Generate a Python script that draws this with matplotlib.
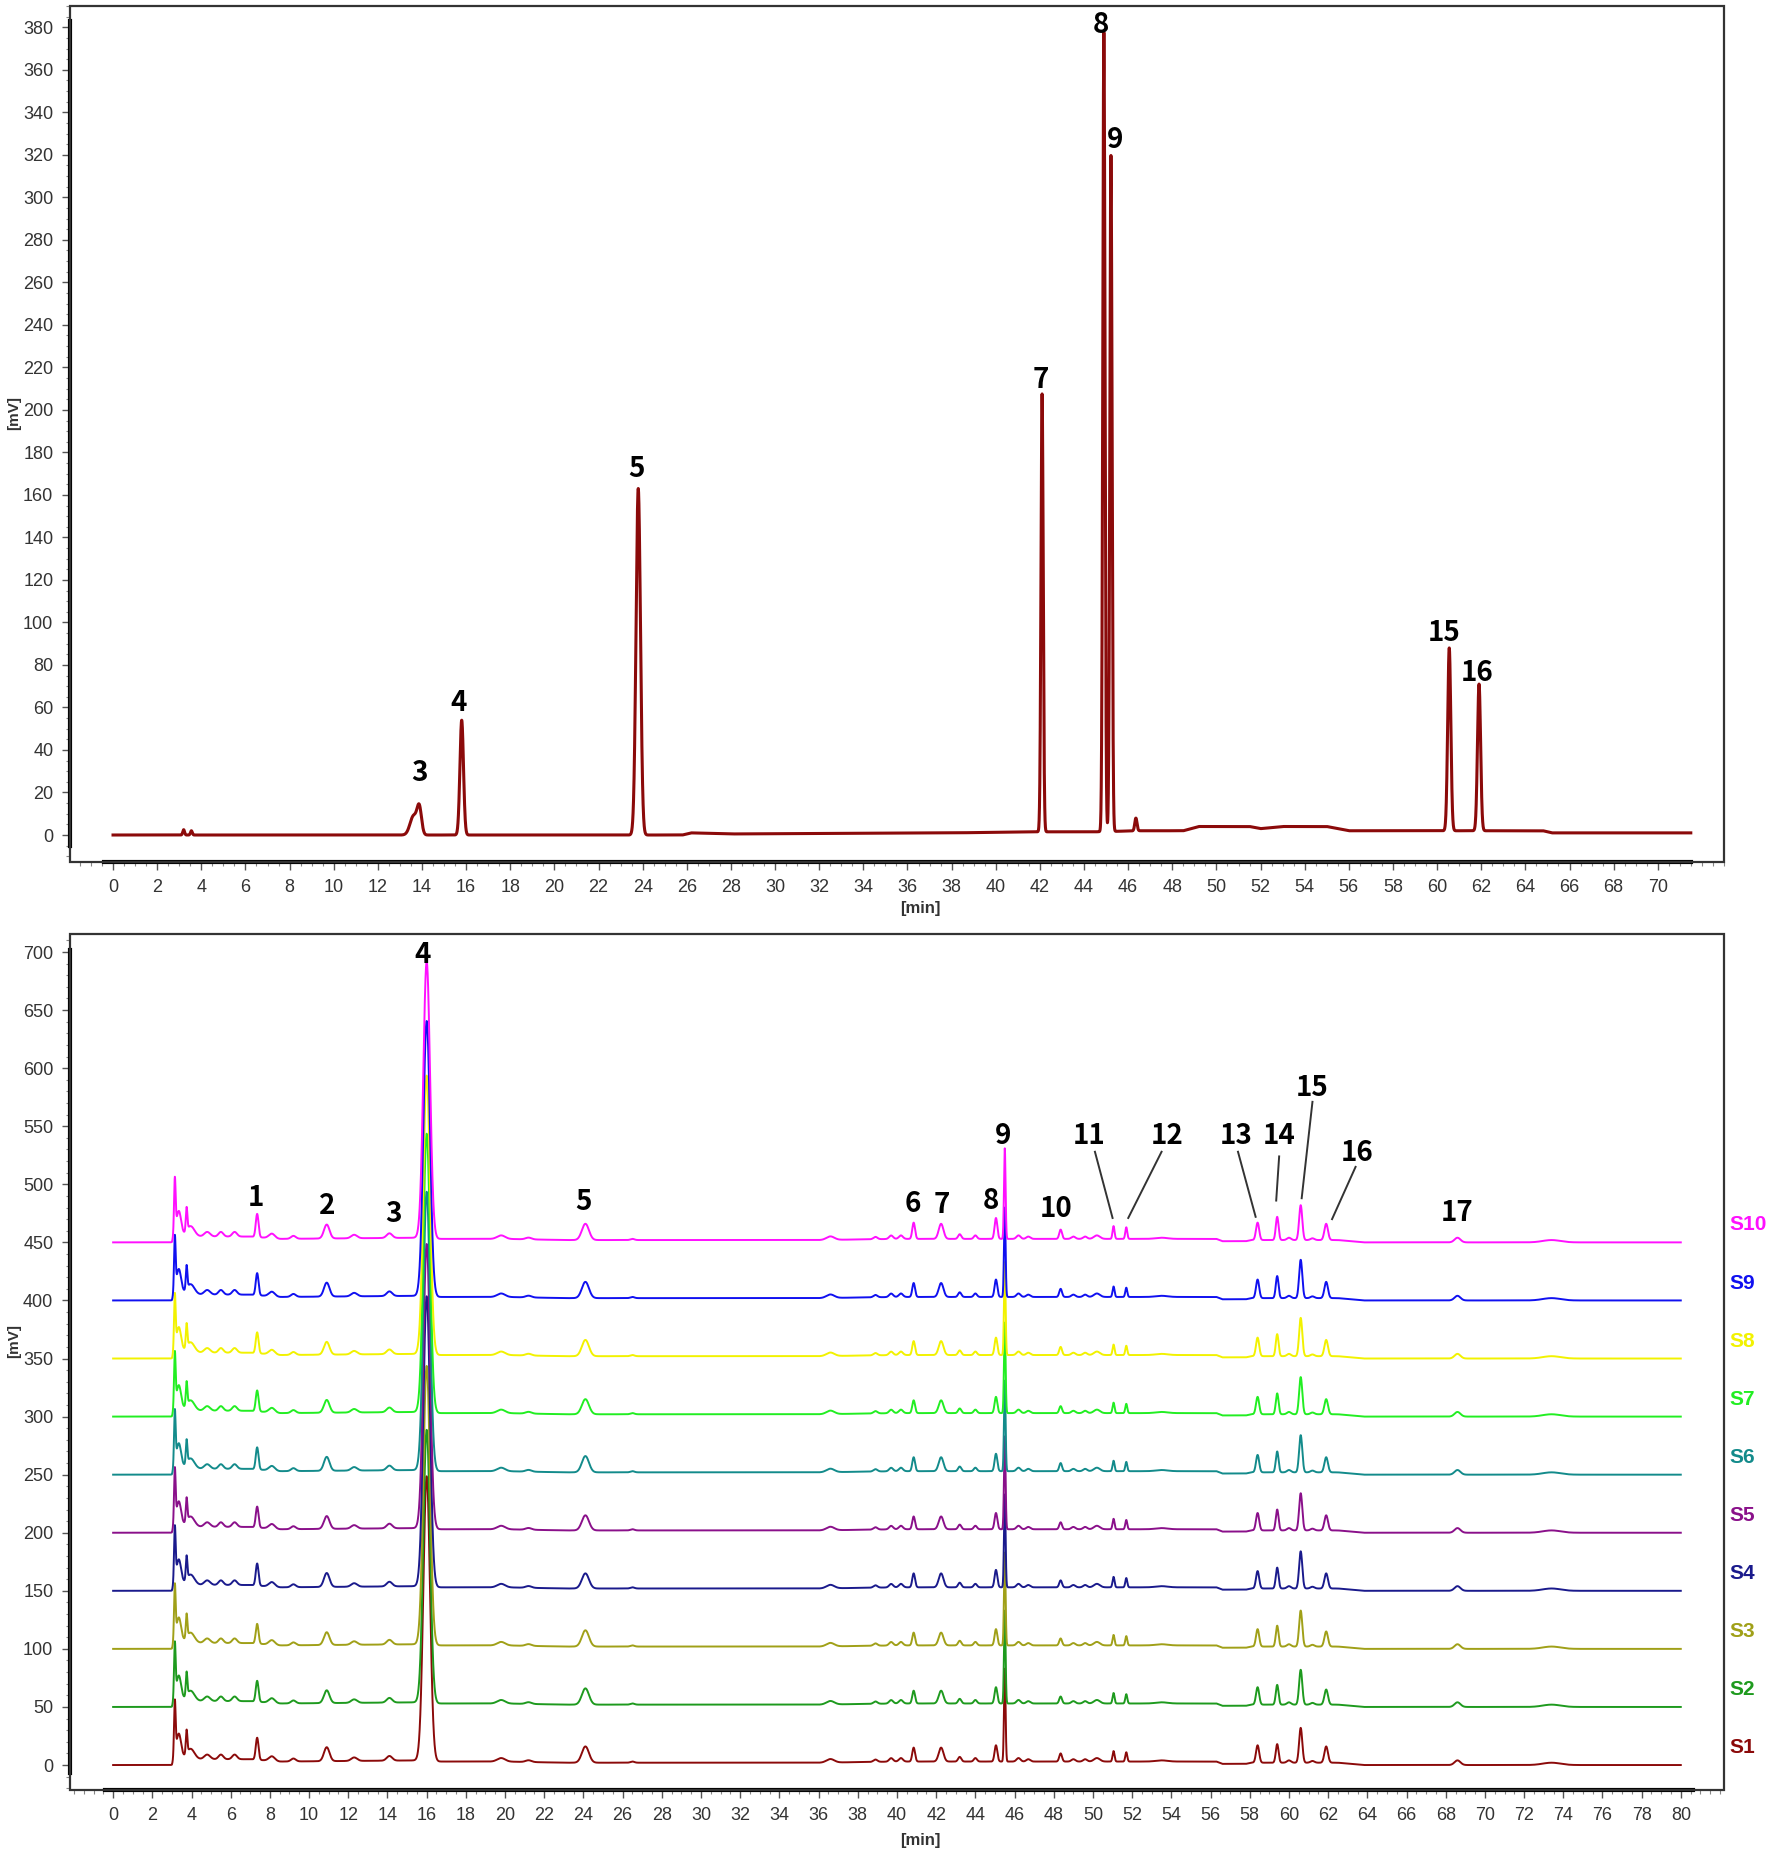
import matplotlib.pyplot as plt
import numpy as np
from matplotlib.ticker import MultipleLocator
from matplotlib.patches import Rectangle
import matplotlib.transforms as mtrans

plt.rcParams['font.family'] = ['Liberation Sans', 'DejaVu Sans']

# ---------------- top chromatogram (single run) ----------------
top_rt = [3.2, 3.55, 13.62, 13.88, 15.8, 23.8, 42.1, 44.9, 45.22, 46.35, 60.55, 61.9]
top_h = [2.5, 2.0, 9, 12, 54, 163, 206, 376, 318, 6, 86, 69]
top_sigma = [0.04, 0.04, 0.16, 0.1, 0.08, 0.1, 0.05, 0.05, 0.05, 0.05, 0.07, 0.07]
top_base_t = [0, 25.8, 26.2, 28, 38, 42, 44.5, 46.5, 48.5, 49.2, 51.5, 52, 53, 55, 56, 64.8, 65.2, 71.5]
top_base_v = [0, 0, 1, 0.5, 1, 1.5, 1.5, 2, 2, 4, 4, 3, 4, 4, 2, 2, 1, 1]
top_labels = ['3', '4', '5', '7', '8', '9', '15', '16']
top_label_t = [13.9, 15.65, 23.7, 42.05, 44.75, 45.4, 60.3, 61.8]
top_label_v = [29, 62, 172, 214, 381, 327, 95, 76]

# ---------------- bottom chromatograms (S1-S10) ----------------
samples = ['S1', 'S2', 'S3', 'S4', 'S5', 'S6', 'S7', 'S8', 'S9', 'S10']
sample_colors = ['#8B0A0A', '#1E9A1E', '#A0A018', '#1A1A8C', '#8A108A',
                 '#138B8B', '#22EE22', '#F2F200', '#1010F0', '#FF10FF']
offsets = [0, 50, 100, 150, 200, 250, 300, 350, 400, 450]

peak_rt = [7.35, 10.9, 14.1, 16.0, 24.1, 40.85, 42.25, 45.05, 45.5, 48.35,
           51.05, 51.7, 58.4, 59.4, 60.6, 61.9, 68.6]
peak_sigma = [0.07, 0.14, 0.14, 0.17, 0.18, 0.07, 0.12, 0.07, 0.04, 0.07,
              0.05, 0.05, 0.08, 0.07, 0.08, 0.09, 0.15]
peak_heights = [
    [19, 12, 4, 245, 14, 12, 12, 14, 80, 7, 9, 8, 15, 16, 30, 14, 4],   # S1
    [18, 11, 4, 235, 14, 11, 11, 14, 80, 6, 9, 8, 15, 17, 30, 13, 4],   # S2
    [17, 11, 4, 240, 14, 11, 11, 14, 80, 6, 9, 8, 15, 18, 31, 13, 4],   # S3
    [19, 12, 4, 250, 13, 12, 12, 15, 80, 6, 9, 8, 15, 18, 32, 13, 4],   # S4
    [18, 11, 4, 245, 13, 11, 11, 14, 80, 6, 9, 8, 15, 18, 32, 13, 4],   # S5
    [19, 12, 4, 240, 14, 12, 12, 15, 78, 7, 9, 8, 15, 18, 32, 13, 4],   # S6
    [18, 11, 4, 240, 13, 11, 11, 14, 78, 6, 9, 8, 15, 18, 32, 13, 4],   # S7
    [18, 11, 4, 240, 14, 12, 12, 15, 80, 7, 9, 8, 16, 19, 33, 14, 4],   # S8
    [19, 12, 4, 237, 14, 12, 12, 15, 77, 7, 9, 8, 16, 19, 33, 14, 4],   # S9
    [20, 12, 4, 238, 14, 14, 13, 18, 78, 8, 11, 10, 15, 20, 30, 14, 4],  # S10
]
minor_rt = [3.15, 3.35, 3.75, 3.95, 4.8, 5.5, 6.2, 8.1, 9.2, 12.3, 19.8, 21.2,
            26.5, 36.6, 38.9, 39.7, 40.2, 43.2, 44.0, 46.2, 46.7, 49.0, 49.6,
            50.2, 53.5, 60.0, 61.2, 73.4]
minor_h = [46, 22, 20, 9, 4, 4, 4, 4, 2.5, 3, 3, 1.5,
           1, 3, 2, 3, 3, 4, 3, 3, 2, 2, 2,
           3, 1, 2, 1.5, 2]
minor_sigma = [0.04, 0.12, 0.04, 0.2, 0.15, 0.12, 0.12, 0.15, 0.12, 0.15, 0.2, 0.15,
               0.1, 0.2, 0.1, 0.1, 0.1, 0.08, 0.08, 0.1, 0.1, 0.1, 0.1,
               0.15, 0.3, 0.1, 0.1, 0.45]
base_t = [0, 3.0, 3.1, 7, 8.5, 15.6, 16.6, 20, 23, 36, 40, 47, 56.3, 56.6, 57.8, 58.1, 62.5, 63.8, 80]
base_v = [0, 0, 5, 5, 3, 4, 3, 3, 2, 2, 3, 3, 3, 1, 1, 2, 2, 0, 0]

bot_labels = ['1', '2', '3', '4', '5', '6', '7', '8', '9', '10', '11', '12',
              '13', '14', '15', '16', '17']
bot_label_t = [7.3, 10.9, 14.3, 15.8, 24.0, 40.8, 42.3, 44.8, 45.4, 48.1, 49.8,
               53.8, 57.3, 59.5, 61.2, 63.5, 68.6]
bot_label_v = [488, 481, 474, 697, 485, 483, 482, 486, 542, 479, 542, 542,
               542, 542, 583, 527, 475]
# leader lines: (t0, v0, t1, v1)
leaders = [(50.1, 528, 51.0, 471), (53.5, 528, 51.8, 471), (57.4, 528, 58.3, 472),
           (59.5, 524, 59.35, 486), (61.2, 571, 60.65, 488), (63.4, 515, 62.2, 470)]

label_font = ['Noto Sans CJK SC', 'DejaVu Sans']


def trace(t, rts, hs, sig, bt, bv):
    y = np.interp(t, bt, bv)
    for r, h, s in zip(rts, hs, sig):
        y = y + h * np.exp(-0.5 * ((t - r) / s) ** 2)
    return y


def style_axes(ax, ybounds, xbounds):
    for s in ['top', 'right']:
        ax.spines[s].set_visible(False)
    ax.spines['left'].set_bounds(*ybounds)
    ax.spines['bottom'].set_bounds(*xbounds)
    ax.spines['left'].set_linewidth(3)
    ax.spines['bottom'].set_linewidth(3)
    ax.add_patch(Rectangle((0, 0), 1, 1, transform=ax.transAxes, fill=False,
                           lw=1.6, ec='#333333', clip_on=False, zorder=5))
    ax.tick_params(which='major', direction='out', length=6, width=1,
                   color='#555555', labelsize=13, labelcolor='#333333', pad=6)
    ax.tick_params(which='minor', direction='out', length=3, width=0.8,
                   color='#888888')


fig = plt.figure(figsize=(17.7, 18.53), dpi=100)

# top panel
ax1 = fig.add_axes([70 / 1770, 1 - 862 / 1853, 1654 / 1770, 856 / 1853])
t1 = np.arange(0, 71.5, 0.005)
ax1.plot(t1, trace(t1, top_rt, top_h, top_sigma, top_base_t, top_base_v),
         color='#8B0A0A', lw=2.2)
ax1.set_xlim(-1.95, 73.0)
ax1.set_ylim(-12.7, 390)
ax1.xaxis.set_minor_locator(MultipleLocator(0.5))
ax1.yaxis.set_minor_locator(MultipleLocator(5))
ax1.set_xticks(np.arange(0, 71, 2))
ax1.set_yticks(np.arange(0, 381, 20))
style_axes(ax1, (-5, 383), (-0.4, 71.5))
for lab, x, y in zip(top_labels, top_label_t, top_label_v):
    ax1.text(x, y, lab, ha='center', va='center', fontsize=20,
             fontweight='bold', family=label_font)

# bottom panel
ax2 = fig.add_axes([70 / 1770, 1 - 1790 / 1853, 1654 / 1770, 856 / 1853])
t2 = np.arange(0, 80, 0.005)
tr = mtrans.blended_transform_factory(ax2.transAxes, ax2.transData)
for i, name in enumerate(samples):
    y = trace(t2, peak_rt + minor_rt, peak_heights[i] + minor_h,
              peak_sigma + minor_sigma, base_t, base_v) + offsets[i]
    ax2.plot(t2, y, color=sample_colors[i], lw=1.4)
    ax2.text(1.003, offsets[i] + 15, name, transform=tr, ha='left', va='center',
             fontsize=15, fontweight='bold', color=sample_colors[i])
ax2.set_xlim(-2.2, 82.2)
ax2.set_ylim(-21.5, 715.5)
ax2.xaxis.set_minor_locator(MultipleLocator(0.5))
ax2.yaxis.set_minor_locator(MultipleLocator(10))
ax2.set_xticks(np.arange(0, 81, 2))
ax2.set_yticks(np.arange(0, 701, 50))
style_axes(ax2, (-7, 702), (-0.4, 80.6))
for lab, x, y in zip(bot_labels, bot_label_t, bot_label_v):
    ax2.text(x, y, lab, ha='center', va='center', fontsize=20,
             fontweight='bold', family=label_font)
for t0, v0, t1_, v1 in leaders:
    ax2.plot([t0, t1_], [v0, v1], color='#333333', lw=1.4)

fig.text(920 / 1770, 1 - 909 / 1853, '[min]', ha='center', va='center',
         fontsize=12, fontweight='bold', color='#333333')
fig.text(920 / 1770, 1 - 1840 / 1853, '[min]', ha='center', va='center',
         fontsize=12, fontweight='bold', color='#333333')
fig.text(14 / 1770, 1 - 413 / 1853, '[mV]', ha='center', va='center',
         rotation=90, fontsize=11, fontweight='bold', color='#333333')
fig.text(14 / 1770, 1 - 1341 / 1853, '[mV]', ha='center', va='center',
         rotation=90, fontsize=11, fontweight='bold', color='#333333')

fig.savefig('out.png', dpi=100)
